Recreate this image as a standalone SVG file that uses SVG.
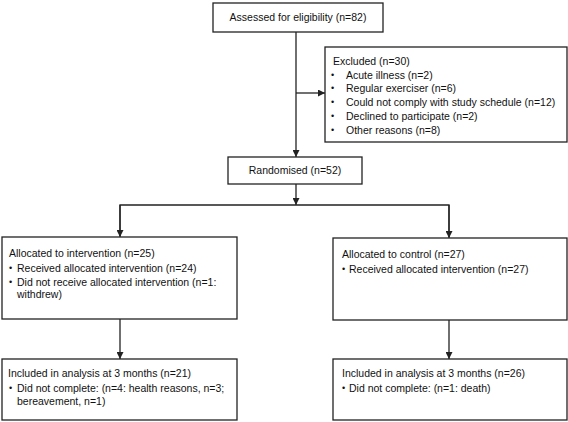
<svg xmlns="http://www.w3.org/2000/svg" width="568" height="422" viewBox="0 0 568 422">
<style>
.box{fill:#fff;stroke:#222;stroke-width:1.3}
.ln{fill:none;stroke:#222;stroke-width:1.3}
text{font-family:"Liberation Sans",Arial,sans-serif;font-size:10.5px;fill:#111}
.b{font-size:9px}
</style>
<defs>
<marker id="ah" viewBox="0 0 10 10" refX="10" refY="5" markerWidth="7" markerHeight="7" markerUnits="userSpaceOnUse" orient="auto">
<path d="M0,0 L10,5 L0,10 Z" fill="#222"/>
</marker>
</defs>
<rect width="568" height="422" fill="#fff"/>
<g id="connectors">
<line class="ln" x1="296" y1="32" x2="296" y2="157" marker-end="url(#ah)"/>
<line class="ln" x1="296" y1="93" x2="325" y2="93" marker-end="url(#ah)"/>
<line class="ln" x1="296" y1="184" x2="296" y2="205" marker-end="url(#ah)"/>
<polyline class="ln" points="120,236 120,205 449,205 449,237"/>
<line class="ln" x1="120" y1="205" x2="120" y2="237" marker-end="url(#ah)"/>
<line class="ln" x1="449" y1="205" x2="449" y2="238" marker-end="url(#ah)"/>
<line class="ln" x1="120" y1="319" x2="120" y2="359" marker-end="url(#ah)"/>
<line class="ln" x1="449" y1="320" x2="449" y2="359" marker-end="url(#ah)"/>
</g>
<g id="assessed">
<rect class="box" x="213" y="3" width="170" height="29"/>
<text x="298" y="21" text-anchor="middle">Assessed for eligibility (n=82)</text>
</g>
<g id="excluded">
<rect class="box" x="325" y="47" width="242" height="95"/>
<text x="333" y="65">Excluded (n=30)</text>
<text class="b" x="331" y="78">•</text><text x="346" y="79">Acute illness (n=2)</text>
<text class="b" x="331" y="91">•</text><text x="346" y="92">Regular exerciser (n=6)</text>
<text class="b" x="331" y="105">•</text><text x="346" y="106">Could not comply with study schedule (n=12)</text>
<text class="b" x="331" y="119">•</text><text x="346" y="120">Declined to participate (n=2)</text>
<text class="b" x="331" y="133">•</text><text x="346" y="134">Other reasons (n=8)</text>
</g>
<g id="randomised">
<rect class="box" x="228" y="157" width="134" height="27"/>
<text x="295" y="174" text-anchor="middle">Randomised (n=52)</text>
</g>
<g id="alloc-intervention">
<rect class="box" x="2" y="237" width="235" height="82"/>
<text x="9" y="257">Allocated to intervention (n=25)</text>
<text class="b" x="9" y="271">•</text><text x="17" y="272">Received allocated intervention (n=24)</text>
<text class="b" x="9" y="285">•</text><text x="17" y="286">Did not receive allocated intervention (n=1:</text>
<text x="17" y="298">withdrew)</text>
</g>
<g id="alloc-control">
<rect class="box" x="333" y="238" width="234" height="82"/>
<text x="342" y="258">Allocated to control (n=27)</text>
<text class="b" x="342" y="272">•</text><text x="349" y="273">Received allocated intervention (n=27)</text>
</g>
<g id="analysis-intervention">
<rect class="box" x="2" y="359" width="235" height="61"/>
<text x="8" y="377">Included in analysis at 3 months (n=21)</text>
<text class="b" x="9" y="391">•</text><text x="17" y="392">Did not complete: (n=4: health reasons, n=3;</text>
<text x="17" y="405">bereavement, n=1)</text>
</g>
<g id="analysis-control">
<rect class="box" x="333" y="359" width="234" height="61"/>
<text x="342" y="377">Included in analysis at 3 months (n=26)</text>
<text class="b" x="342" y="391">•</text><text x="349" y="392">Did not complete: (n=1: death)</text>
</g>
</svg>
